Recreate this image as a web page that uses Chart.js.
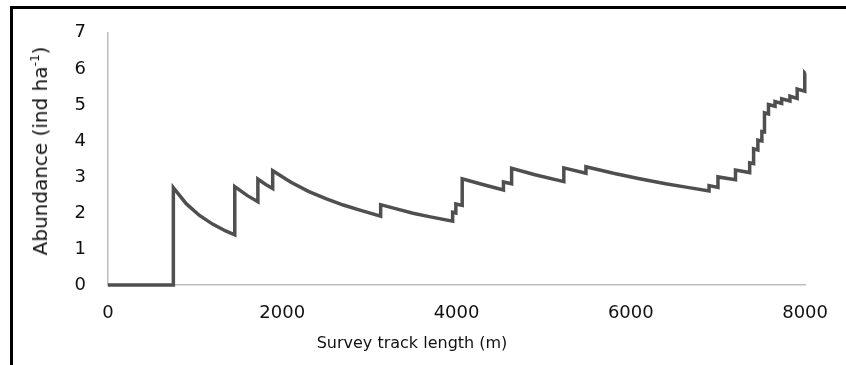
<!DOCTYPE html>
<html>
<head>
<meta charset="utf-8">
<script src="https://cdn.jsdelivr.net/npm/chart.js@4"></script>
<style>
  html, body { margin: 0; padding: 0; background: #fff; }
  #wrap { position: relative; width: 846px; height: 365px; overflow: hidden; font-family: "DejaVu Sans", Verdana, sans-serif; color: #111; }
  #frame { position: absolute; left: 10px; top: 6px; width: 900px; height: 500px; border-left: 3px solid #000; border-top: 3px solid #000; }
  canvas { position: absolute; left: 0; top: 0; }
  .ytitle { position: absolute; left: 40px; top: 151px; transform: translate(-50%, -50%) rotate(-90deg); white-space: nowrap; font-size: 20px; }
  .ytitle sup { font-size: 12px; vertical-align: 8px; }
  .xtitle { position: absolute; left: 412px; top: 342px; transform: translate(-50%, -50%); white-space: nowrap; font-size: 16px; }
</style>
</head>
<body>
<div id="wrap">
  <div id="frame"></div>
  <canvas id="c" width="846" height="365"></canvas>
  <div class="ytitle">Abundance (ind ha<sup>-1</sup>)</div>
  <div class="xtitle">Survey track length (m)</div>
</div>
<script>
// survey track length (m) and running abundance estimate (ind/ha)
const trackLength = [0, 750, 750, 900, 1050, 1200, 1350, 1455, 1455, 1600, 1720, 1720, 1810, 1890,
  1890, 2100, 2300, 2500, 2700, 2900, 3129, 3129, 3300, 3500, 3700, 3955, 3955, 3992, 3992, 4065,
  4065, 4300, 4538, 4538, 4632, 4632, 4900, 5231, 5231, 5485, 5485, 5800, 6100, 6400, 6650, 6898,
  6898, 7000, 7000, 7201, 7201, 7364, 7364, 7409, 7409, 7458, 7458, 7504, 7504, 7534, 7534, 7580,
  7580, 7655, 7655, 7731, 7731, 7826, 7826, 7909, 7909, 7996, 7996, 8000];
const abundance = [0, 0, 2.70, 2.25, 1.93, 1.69, 1.50, 1.39, 2.73, 2.48, 2.31, 2.94, 2.79, 2.68,
  3.17, 2.85, 2.60, 2.40, 2.22, 2.07, 1.91, 2.23, 2.12, 1.99, 1.89, 1.77, 2.02, 2.00, 2.25, 2.21,
  2.95, 2.79, 2.64, 2.86, 2.81, 3.24, 3.06, 2.87, 3.25, 3.10, 3.28, 3.10, 2.95, 2.81, 2.71, 2.61,
  2.76, 2.71, 3.00, 2.92, 3.19, 3.12, 3.39, 3.37, 3.78, 3.75, 4.02, 4.00, 4.26, 4.25, 4.78, 4.75,
  5.01, 4.96, 5.09, 5.04, 5.17, 5.11, 5.24, 5.18, 5.44, 5.38, 5.88, 5.87];

const xTicks = [0, 2000, 4000, 6000, 8000];
const yTicks = [0, 1, 2, 3, 4, 5, 6, 7];

const points = trackLength.map((x, i) => ({ x: x, y: abundance[i] }));
const tickFont = { family: '"DejaVu Sans", Verdana, sans-serif', size: 18 };
const axisGrey = '#bdbdbd';

new Chart(document.getElementById('c'), {
  type: 'line',
  data: {
    datasets: [{
      data: points,
      borderColor: '#4f4f4f',
      borderWidth: 3.5,
      pointRadius: 0,
      tension: 0,
      fill: false,
      clip: false
    }]
  },
  options: {
    responsive: false,
    animation: false,
    layout: { padding: { left: 0, right: 34, top: 28, bottom: 0 } },
    plugins: { legend: { display: false }, tooltip: { enabled: false } },
    scales: {
      x: {
        type: 'linear',
        min: 0, max: 8000,
        afterBuildTicks: s => { s.ticks = xTicks.map(v => ({ value: v })); },
        afterFit: s => { s.height = 80; },
        ticks: { font: tickFont, color: '#111', padding: 18, maxRotation: 0, callback: v => String(v) },
        grid: { display: true, color: 'rgba(0,0,0,0)', drawTicks: false },
        border: { display: true, color: axisGrey, width: 1.5 }
      },
      y: {
        min: 0, max: 7,
        afterBuildTicks: s => { s.ticks = yTicks.map(v => ({ value: v })); },
        afterFit: s => { s.width = 108; },
        ticks: { font: tickFont, color: '#111', padding: 22, callback: v => String(v) },
        grid: { display: true, color: 'rgba(0,0,0,0)', drawTicks: false },
        border: { display: true, color: axisGrey, width: 1.5 }
      }
    }
  }
});
</script>
</body>
</html>
